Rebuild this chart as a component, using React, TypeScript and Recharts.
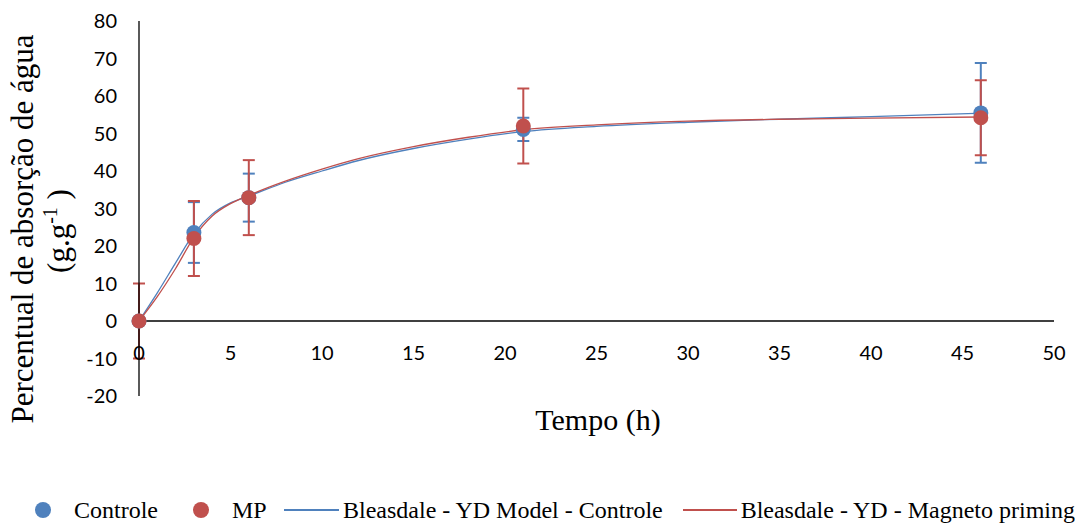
import React from 'react';
import {
  ComposedChart,
  Scatter,
  Line,
  XAxis,
  YAxis,
  ErrorBar,
  ReferenceLine,
  Legend,
} from 'recharts';

// observed points (h)
const tempoObs = [0, 3, 6, 21, 46];
const controleObs = [0, 23.6, 32.9, 51.1, 55.5];
const controleErr = [0, 8.1, 6.4, 3.1, 13.3];
const mpObs = [0, 22.0, 32.9, 52.0, 54.2];
const mpErr = [10, 10, 10, 10, 10];

// fitted Bleasdale curves
const tempoModelo = [0, 1, 2, 3, 4, 5, 6, 8, 10, 12, 15, 18, 21, 25, 30, 35, 40, 46];
const modeloControle = [0, 7.5, 15.5, 23.3, 28.5, 31.5, 33.3, 37, 40, 42.8, 46, 48.5, 50.5, 51.9, 53, 53.8, 54.5, 55.4];
const modeloMP = [0, 6.5, 14, 22.3, 28, 31.3, 33.5, 37.3, 40.5, 43.3, 46.5, 49, 51, 52.3, 53.3, 53.8, 54.1, 54.4];

const xTicks = [0, 5, 10, 15, 20, 25, 30, 35, 40, 45, 50];
const yTicks = [-20, -10, 0, 10, 20, 30, 40, 50, 60, 70, 80];

const BLUE = '#4F81BD';
const RED = '#C0504D';
const SERIF = '"Liberation Serif", "Times New Roman", serif';
const SANS = 'Lato, "Open Sans", sans-serif';

const controleData = tempoObs.map((x, i) => ({ x, y: controleObs[i], err: controleErr[i] }));
const mpData = tempoObs.map((x, i) => ({ x, y: mpObs[i], err: mpErr[i] }));
const curvaControle = tempoModelo.map((x, i) => ({ x, y: modeloControle[i] }));
const curvaMP = tempoModelo.map((x, i) => ({ x, y: modeloMP[i] }));

const Dot = (color: string) => (props: any) => (
  <circle cx={props.cx} cy={props.cy} r={7.5} fill={color} />
);

const XTick = ({ x, y, payload }: any) => (
  <text x={x} y={y - 36} textAnchor="middle" fontFamily={SANS} fontSize={20} fill="#000">
    {payload.value}
  </text>
);

const YTitle = () => (
  <g fontFamily={SERIF} fontSize={31} fill="#000">
    <text x={33} y={229} textAnchor="middle" transform="rotate(-90, 33, 229)">
      Percentual de absorção de água
    </text>
    <text x={69} y={231} textAnchor="middle" transform="rotate(-90, 69, 231)">
      (g.g<tspan fontSize={20} dy={-12}>-1</tspan>
      <tspan dy={12}> )</tspan>
    </text>
  </g>
);

const XTitle = () => (
  <text x={598} y={430} textAnchor="middle" fontFamily={SERIF} fontSize={30} fill="#000">
    Tempo (h)
  </text>
);

const legendItems = [
  { label: 'Controle', color: BLUE, kind: 'dot', width: 158 },
  { label: 'MP', color: RED, kind: 'dot', width: 91 },
  { label: 'Bleasdale - YD Model - Controle', color: BLUE, kind: 'line', width: 399 },
  { label: 'Bleasdale - YD - Magneto priming', color: RED, kind: 'line', width: 392 },
];

const ChartLegend = () => (
  <div
    style={{
      display: 'flex',
      alignItems: 'center',
      height: 32,
      boxSizing: 'border-box',
      paddingTop: 6,
      paddingLeft: 35,
      fontFamily: SERIF,
      fontSize: 24,
      color: '#000',
      whiteSpace: 'nowrap',
    }}
  >
    {legendItems.map((item) => (
      <div key={item.label} style={{ display: 'flex', alignItems: 'center', width: item.width }}>
        {item.kind === 'dot' ? (
          <span
            style={{
              width: 16,
              height: 16,
              borderRadius: '50%',
              background: item.color,
              marginRight: 23,
            }}
          />
        ) : (
          <span style={{ width: 55, height: 1.5, background: item.color, marginRight: 4 }} />
        )}
        <span style={{ fontFamily: SERIF, fontSize: 24 }}>{item.label}</span>
      </div>
    ))}
  </div>
);

export default function App() {
  return (
    <div style={{ position: 'absolute', left: 0, top: 0, background: '#fff' }}>
      <ComposedChart width={1075} height={523} margin={{ top: 21, right: 21, left: 0, bottom: 0 }}>
        <XAxis
          type="number"
          dataKey="x"
          domain={[0, 50]}
          ticks={xTicks}
          axisLine={false}
          tickLine={false}
          tickSize={0}
          tickMargin={0}
          height={95}
          tick={<XTick />}
          label={<XTitle />}
        />
        <YAxis
          type="number"
          domain={[-20, 80]}
          ticks={yTicks}
          width={139}
          axisLine={{ stroke: '#000', strokeWidth: 1.3 }}
          tickLine={false}
          tickSize={0}
          tickMargin={22}
          tick={{ fill: '#000', fontSize: 20, fontFamily: SANS }}
          label={<YTitle />}
        />
        <ReferenceLine y={0} stroke="#000" strokeWidth={1.3} />
        <Legend
          verticalAlign="bottom"
          wrapperStyle={{ left: 0, width: 1075 }}
          content={<ChartLegend />}
        />
        <Line
          data={curvaControle}
          dataKey="y"
          type="monotone"
          stroke={BLUE}
          strokeWidth={1.3}
          dot={false}
          activeDot={false}
          isAnimationActive={false}
          legendType="none"
        />
        <Line
          data={curvaMP}
          dataKey="y"
          type="monotone"
          stroke={RED}
          strokeWidth={1.3}
          dot={false}
          activeDot={false}
          isAnimationActive={false}
          legendType="none"
        />
        <Scatter data={controleData} dataKey="y" shape={Dot(BLUE)} isAnimationActive={false}>
          <ErrorBar dataKey="err" direction="y" width={6} stroke={BLUE} strokeWidth={2} />
        </Scatter>
        <Scatter data={mpData} dataKey="y" shape={Dot(RED)} isAnimationActive={false}>
          <ErrorBar dataKey="err" direction="y" width={6} stroke={RED} strokeWidth={2} />
        </Scatter>
      </ComposedChart>
    </div>
  );
}
